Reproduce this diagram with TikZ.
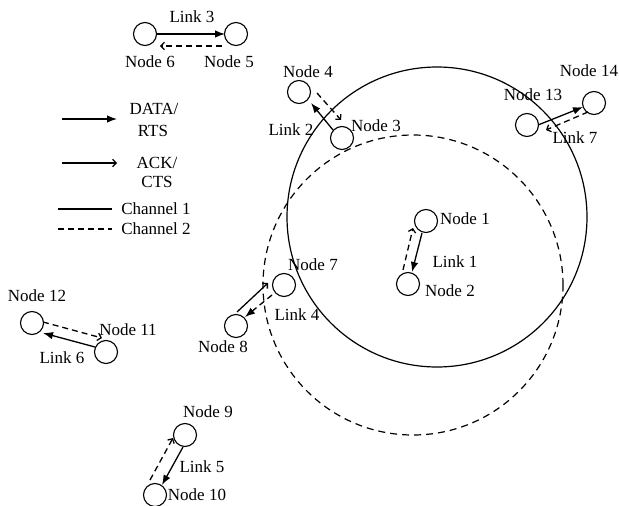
\documentclass[tikz,border=0pt]{standalone}
\usepackage{fontspec}
\setmainfont{Liberation Serif}
\usetikzlibrary{arrows.meta}
\begin{document}
\begin{tikzpicture}[x=1pt,y=-1pt,
  every node/.style={font=\fontsize{17}{19}\selectfont, inner sep=0pt},
  station/.style={circle,draw,line width=1.1pt,minimum size=23pt},
  chanone/.style={line width=1.3pt},
  chantwo/.style={line width=1.3pt,dash pattern=on 6pt off 4pt},
  datatip/.style={-{Latex[length=10pt,width=7.5pt]}},
  acktip/.style={-{Straight Barb[length=3.5pt,width=7.5pt]}},
  rangeone/.style={line width=1.2pt},
  rangetwo/.style={line width=1.2pt,dash pattern=on 7pt off 5pt},
]
\useasboundingbox (0,0) rectangle (619,506);

% interference ranges
\draw[rangeone] (437,217) circle[radius=150pt];
\draw[rangetwo] (413,285) circle[radius=150pt];

% stations
\node[station] (n1) at (426,221) {};
\node[station] (n2) at (408,284) {};
\node[station] (n3) at (342,138) {};
\node[station] (n4) at (299,92) {};
\node[station] (n5) at (236,34) {};
\node[station] (n6) at (145,34) {};
\node[station] (n7) at (284,285) {};
\node[station] (n8) at (236,326) {};
\node[station] (n9) at (185,435) {};
\node[station] (n10) at (155,495) {};
\node[station] (n11) at (106,352) {};
\node[station] (n12) at (32,323) {};
\node[station] (n13) at (527,125) {};
\node[station] (n14) at (594,103) {};

% station labels
\node (t1) at (465,219) {Node 1};
\node (t2) at (450,291) {Node 2};
\node (t3) at (376,126) {Node 3};
\node (t4) at (308,72) {Node 4};
\node (t5) at (229,62) {Node 5};
\node (t6) at (150,62) {Node 6};
\node (t7) at (313,265) {Node 7};
\node (t8) at (223,347) {Node 8};
\node (t9) at (208,412) {Node 9};
\node (t10) at (197,495) {Node 10};
\node (t11) at (128,330) {Node 11};
\node (t12) at (37,296) {Node 12};
\node (t13) at (533,95) {Node 13};
\node (t14) at (589,71) {Node 14};

% link labels
\node (l1) at (455,262) {Link 1};
\node (l2) at (291,130) {Link 2};
\node (l3) at (192,17) {Link 3};
\node (l4) at (297,315) {Link 4};
\node (l5) at (202,467) {Link 5};
\node (l6) at (62,358) {Link 6};
\node (l7) at (575,138) {Link 7};

% link arrow end points
\coordinate (a3s) at (157,34);  \coordinate (b3s) at (225,34);
\coordinate (a3d) at (222,46);  \coordinate (b3d) at (160,46);
\coordinate (a2s) at (333,130); \coordinate (b2s) at (311,103);
\coordinate (a2d) at (317,93);  \coordinate (b2d) at (341,120);
\coordinate (a7s) at (538,125); \coordinate (b7s) at (583,107);
\coordinate (a7d) at (588,112); \coordinate (b7d) at (546,130);
\coordinate (a1s) at (422,233); \coordinate (b1s) at (412,272);
\coordinate (a1d) at (403,270); \coordinate (b1d) at (413,228);
\coordinate (a4s) at (237,312); \coordinate (b4s) at (268,283);
\coordinate (a4d) at (272,295); \coordinate (b4d) at (245,317);
\coordinate (a6s) at (95,347);  \coordinate (b6s) at (43,333);
\coordinate (a6d) at (43,322);  \coordinate (b6d) at (102,338);
\coordinate (a5s) at (183,447); \coordinate (b5s) at (162,485);
\coordinate (a5d) at (150,480); \coordinate (b5d) at (173,438);

\draw[chanone,datatip] (a3s) -- (b3s);
\draw[chantwo,acktip]  (a3d) -- (b3d);
\draw[chanone,datatip] (a2s) -- (b2s);
\draw[chantwo,acktip]  (a2d) -- (b2d);
\draw[chanone,datatip] (a7s) -- (b7s);
\draw[chantwo,acktip]  (a7d) -- (b7d);
\draw[chanone,datatip] (a1s) -- (b1s);
\draw[chantwo,acktip]  (a1d) -- (b1d);
\draw[chanone,acktip]  (a4s) -- (b4s);
\draw[chantwo,datatip] (a4d) -- (b4d);
\draw[chanone,datatip] (a6s) -- (b6s);
\draw[chantwo,acktip]  (a6d) -- (b6d);
\draw[chanone,datatip] (a5s) -- (b5s);
\draw[chantwo,acktip]  (a5d) -- (b5d);

% legend
\coordinate (g1a) at (62,119);  \coordinate (g1b) at (117,119);
\coordinate (g2a) at (62,163);  \coordinate (g2b) at (117,163);
\coordinate (g3a) at (58,209);  \coordinate (g3b) at (112,209);
\coordinate (g4a) at (58,229);  \coordinate (g4b) at (112,229);
\draw[chanone,datatip] (g1a) -- (g1b);
\draw[chanone,acktip]  (g2a) -- (g2b);
\draw[chanone] (g3a) -- (g3b);
\draw[chantwo] (g4a) -- (g4b);
\node (k1) at (154,109) {DATA/};
\node (k2) at (153,131) {RTS};
\node (k3) at (157,163) {ACK/};
\node (k4) at (157,182) {CTS};
\node (k5) at (156,209) {Channel 1};
\node (k6) at (156,229) {Channel 2};
\end{tikzpicture}
\end{document}
